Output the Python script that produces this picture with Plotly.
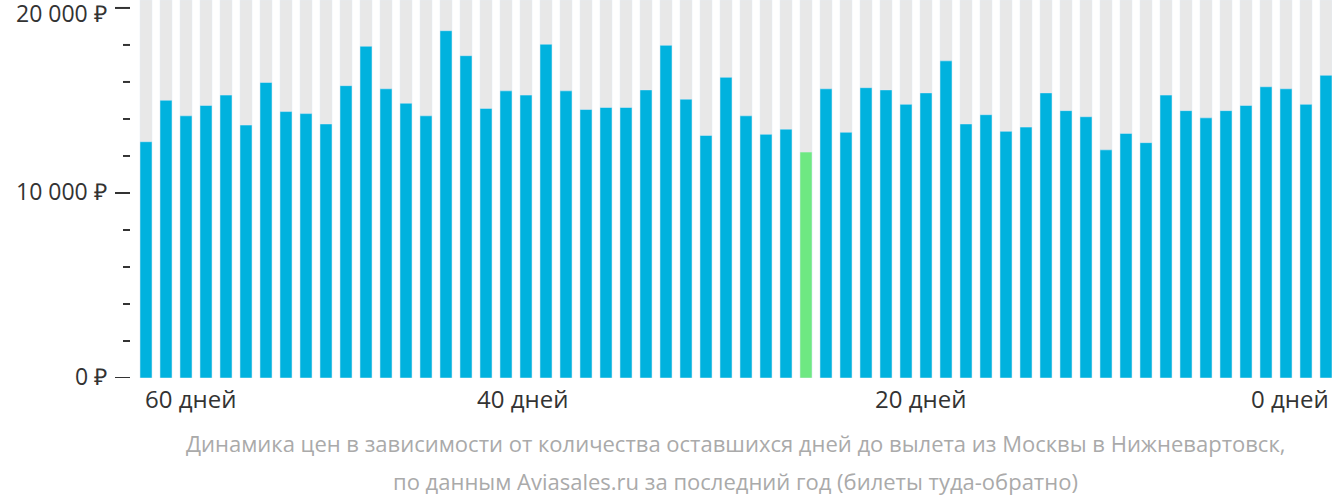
import plotly.graph_objects as go

# days before departure, 60 bars from "60 дней" to "0 дней"
days = list(range(60, 0, -1))
prices = [12770, 15010, 14170, 14730, 15290, 13670, 15970, 14400, 14290, 13730,
          15800, 17930, 15630, 14850, 14170, 18770, 17420, 14570, 15520, 15290,
          18040, 15520, 14510, 14620, 14620, 15570, 17980, 15070, 13110, 16250,
          14170, 13170, 13450, 12210, 15630, 13280, 15690, 15570, 14790, 15410,
          17140, 13730, 14230, 13330, 13560, 15410, 14450, 14120, 12330, 13220,
          12720, 15290, 14450, 14060, 14450, 14730, 15740, 15630, 14790, 16360]
cheapest = prices.index(min(prices))
y_max = 20430

bar_colors = ["#6ee882" if i == cheapest else "#00b2de" for i in range(len(prices))]

tick_vals = list(range(0, 20001, 2000))

fig = go.Figure()
fig.add_trace(go.Bar(
    x=days, y=[y_max] * len(days), marker_color="#e8e8e8",
    width=0.6, hoverinfo="skip",
))
fig.add_trace(go.Bar(
    x=days, y=prices, marker_color=bar_colors, width=0.6,
))

plot_h = 378
fig.update_layout(
    barmode="overlay",
    showlegend=False,
    width=1332, height=502,
    margin=dict(l=136, r=0, t=0, b=502 - plot_h),
    plot_bgcolor="white", paper_bgcolor="white",
    font=dict(family="Open Sans", size=20, color="#333"),
    xaxis=dict(range=[60.5, 0.7], showticklabels=False, showgrid=False, zeroline=False),
    yaxis=dict(range=[0, y_max], showticklabels=False, showgrid=False, zeroline=False),
)

# y-axis labels and dashes
for v in tick_vals:
    if v % 10000 == 0:
        fig.add_annotation(x=0, y=v, xref="paper", yref="y", xanchor="right", xshift=-27,
                           yshift=-5 if v == 20000 else 2,
                           text=f"{v:,}".replace(",", " ") + " ₽", showarrow=False,
                           font=dict(size=23, color="#333"))
        fig.add_shape(type="line", xref="paper", yref="y", x0=-21 / 1196, x1=-6 / 1196,
                      y0=v, y1=v, line=dict(color="#333", width=2))
    else:
        fig.add_shape(type="line", xref="paper", yref="y", x0=-13 / 1196, x1=-6 / 1196,
                      y0=v, y1=v, line=dict(color="#333", width=2))

for label, xp in [("60 дней", 190), ("40 дней", 522), ("20 дней", 920), ("0 дней", 1290)]:
    fig.add_annotation(x=(xp - 136) / 1196, y=-(398 - plot_h) / plot_h, xref="paper", yref="paper",
                       text=label, showarrow=False, font=dict(size=24, color="#333"),
                       xanchor="center", yanchor="middle")

caption = ["Динамика цен в зависимости от количества оставшихся дней до вылета из Москвы в Нижневартовск,",
           "по данным Aviasales.ru за последний год (билеты туда-обратно)"]
for i, line in enumerate(caption):
    fig.add_annotation(x=(735 - 136) / 1196, y=-(443 + 38 * i - plot_h) / plot_h, xref="paper", yref="paper",
                       text=line, showarrow=False, font=dict(size=22, color="#aaaaaa"),
                       xanchor="center", yanchor="middle")

fig.write_html("out.html", config={"displayModeBar": False},
               post_script="document.body.style.margin='0';")
